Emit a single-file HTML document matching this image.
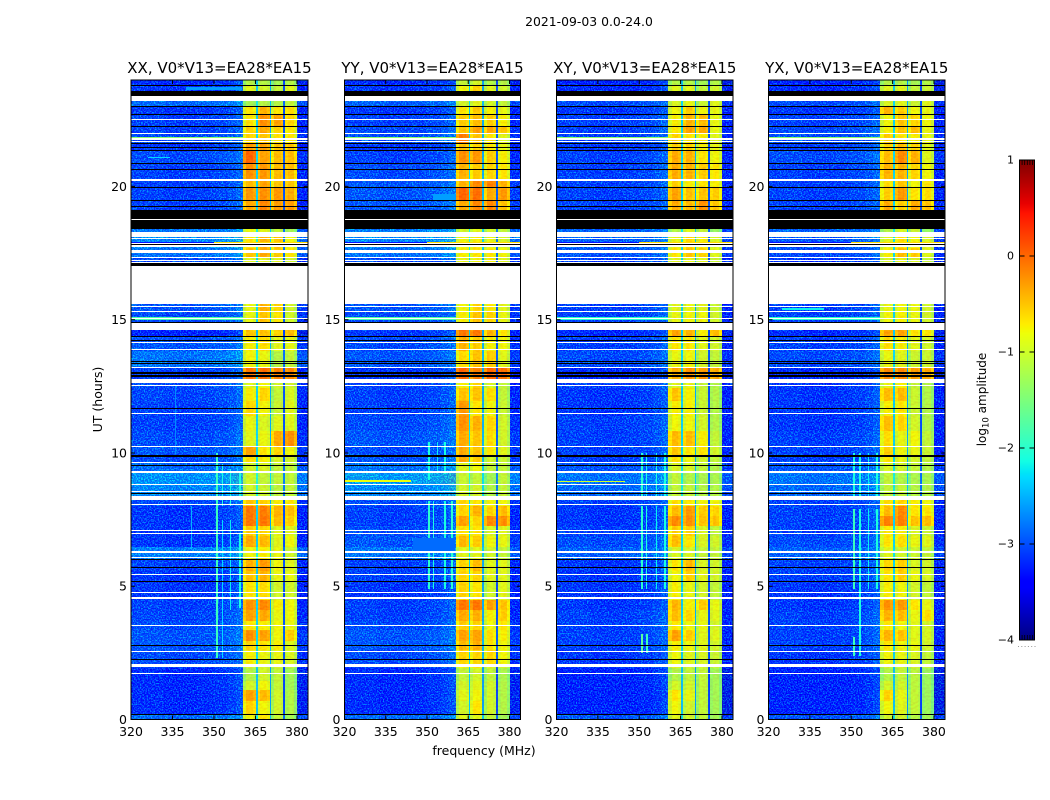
<!DOCTYPE html>
<html lang="en">
<head>
<meta charset="utf-8">
<title>2021-09-03 0.0-24.0</title>
<style>
html,body{margin:0;padding:0;background:#fff;}
svg{display:block;font-family:"DejaVu Sans","Liberation Sans",sans-serif;fill:#000;}
</style>
</head>
<body>
<svg id="chart" xmlns="http://www.w3.org/2000/svg" width="1050" height="800" viewBox="0 0 1050 800">
  <defs>
    <filter id="speckle" x="0" y="0" width="100%" height="100%" color-interpolation-filters="sRGB">
      <feTurbulence type="fractalNoise" baseFrequency="0.72" numOctaves="2" seed="7"/>
      <feColorMatrix type="matrix" values="0 0 0 0 0  4.2 0 0 0 -1.9  2.4 0 0 0 0.2  0 0 0 0 0.5"/>
    </filter>
    <filter id="band-texture" x="0" y="0" width="100%" height="100%" color-interpolation-filters="sRGB">
      <feTurbulence type="fractalNoise" baseFrequency="0.3 0.5" numOctaves="2" seed="11"/>
      <feColorMatrix type="matrix" values="0 0 0 0 1  3 0 0 0 -0.9  0 0 0 0 0  0 0 0 0 0.1"/>
    </filter>
  </defs>
  <text x="589" y="26" font-size="12.4" text-anchor="middle">2021-09-03 0.0-24.0</text>
  <text x="484" y="755" font-size="12.5" text-anchor="middle">frequency (MHz)</text>
  <text transform="translate(102 399.5) rotate(-90)" font-size="12.5" text-anchor="middle">UT (hours)</text>
  <text transform="translate(986 399.5) rotate(-90)" font-size="12" text-anchor="middle">log<tspan font-size="8.5" dy="2.5">10</tspan><tspan dy="-2.5"> amplitude</tspan></text>
  <g id="panels"></g>
  <g id="colorbar"></g>
</svg>
<script>
/* ---------- axis ticks ---------- */
const freqTicks = [320, 335, 350, 365, 380];
const utTicks = [0, 5, 10, 15, 20];
const cbarTicks = [1, 0, -1, -2, -3, -4];

/* ---------- panels ---------- */
const polNames = ['XX', 'YY', 'XY', 'YX'];
const baselineLabel = ', V0*V13=EA28*EA15';

/* ---------- frequency channels (MHz edges) ---------- */
const freqEdges = [320,332,344,350,355,358,360.4,361.7,364.2,365.2,365.8,366.8,369.1,370.1,370.7,371.7,374.1,375.1,375.8,376.8,379.1,380.1,384];
/* -1 background, 0..3 sub-band, 4..6 stripe between sub-bands */
const channelBand = [-1,-1,-1,-1,-1,-1,0,0,0,4,1,1,1,5,2,2,2,6,3,3,3,-1];
const channelGain = [0.02,-0.05,0,0.08,0.2,0.38,-0.25,0,-0.1,0,-0.2,0,-0.1,0,-0.3,0,-0.1,0,-0.1,0,-0.25,-0.25];
const stripeLevels = [-2.3,-2.5,-2.95];

/* ---------- time blocks (UT hours, block edges) ---------- */
const utEdges = [0,.19,.71,1.09,1.46,1.95,2.1,2.59,2.96,3.34,3.71,4.09,4.5,5.21,5.59,6.04,6.49,6.9,7.27,7.65,8.02,8.25,8.85,9.26,9.64,9.9,10.27,10.84,11.4,11.96,12.45,12.79,13.2,13.84,14.36,14.62,15.3,15.6,17.02,17.36,17.7,18.11,18.41,19.12,19.46,19.98,20.28,20.85,21.33,21.6,21.97,22.23,22.72,23.02,23.21,23.55,23.77,24];

/* ---------- off-band background level, log10 amplitude, per block ---------- */
const bgXX = [-2.7,-3.3,-3.3,-3.3,-3.3,-3.1,-3.0,-2.9,-2.9,-3.0,-3.05,-3.1,-3.2,-3.2,-3.1,-2.5,-3.2,-3.2,-3.2,-3.2,-3.0,-2.4,-2.3,-2.7,-3.0,-2.9,-3.0,-3.1,-3.1,-3.05,-3.0,-3.1,-2.6,-2.9,-3.4,-3.0,-2.9,-3,-3.0,-2.6,-2.4,-2.6,-3,-3.1,-3.1,-3.1,-3.1,-3.0,-3.2,-3.0,-3.1,-3.1,-3.2,-2.7,-3,-3.2,-3.3];
const bgYY = [-2.7,-3.3,-3.3,-3.3,-3.3,-3.1,-3.0,-2.9,-2.9,-3.0,-3.1,-3.1,-3.2,-3.1,-3.1,-2.6,-2.9,-3.0,-3.1,-3.1,-3.0,-2.4,-2.2,-2.6,-2.9,-3.0,-2.9,-3.0,-3.1,-3.1,-3.1,-3.2,-2.9,-3.0,-3.2,-3.0,-2.9,-3,-3.0,-2.6,-2.4,-2.5,-3,-2.9,-2.9,-2.9,-3.0,-3.1,-3.2,-3.0,-3.0,-3.1,-3.2,-2.8,-3,-3.2,-3.3];
const bgXY = [-2.9,-3.4,-3.4,-3.4,-3.4,-3.2,-3.2,-3.1,-3.1,-3.1,-3.1,-3.2,-3.2,-3.2,-3.2,-2.8,-3.0,-3.1,-3.2,-3.2,-3.1,-2.7,-2.6,-2.9,-3.1,-3.1,-3.1,-3.1,-3.2,-3.2,-3.1,-3.3,-3.0,-3.1,-3.3,-3.1,-3.1,-3,-3.1,-2.9,-2.8,-2.8,-3,-3.1,-3.1,-3.1,-3.1,-3.1,-3.2,-3.1,-3.1,-3.1,-3.2,-3.0,-3,-3.3,-3.4];
const bgYX = [-2.9,-3.4,-3.4,-3.4,-3.4,-3.3,-3.2,-3.1,-3.1,-3.1,-3.1,-3.2,-3.2,-3.1,-3.1,-2.8,-3.0,-3.1,-3.1,-3.1,-3.1,-2.7,-2.6,-2.9,-3.1,-3.1,-3.1,-3.2,-3.2,-3.2,-3.2,-3.3,-3.0,-3.1,-3.3,-3.1,-3.1,-3,-3.2,-3.0,-2.9,-2.8,-3,-3.1,-3.1,-3.1,-3.1,-3.0,-3.1,-3.0,-3.0,-3.1,-3.2,-3.0,-3,-3.3,-3.4];

/* ---------- four sub-band levels per block ---------- */
const bandXX = [[-.8,-.7,-1.1,-1.3],[-.6,-.8,-1.0,-1.2],[-.3,-.45,-1.0,-1.2],[-1.0,-.8,-1.1,-1.3],[-1.2,-1.0,-1.1,-1.3],[-1,-1,-1,-1.1],[-.75,-.85,-.85,-.95],[-.6,-.7,-.75,-.9],[-.2,-.3,-.8,-.55],[-.7,-.75,-.8,-.85],[-.3,-.35,-.85,-.8],[-.2,-.15,-.75,-.8],[-.7,-.65,-1.0,-1.0],[-.5,-.4,-.85,-.85],[-.4,-.25,-.8,-.9],[-.8,-.75,-.85,-1.0],[-.35,-.45,-.9,-.8],[-.55,-.6,-.9,-.9],[-.05,-.05,-.45,-.55],[-.05,-.1,-.4,-.45],[-.5,-.55,-.75,-.7],[-1,-1.05,-1.15,-1.1],[-1.0,-1.1,-1.1,-1.1],[-1,-.95,-1.1,-1.1],[-.65,-.75,-.95,-1],[-.3,-.7,-.6,-.8],[-.9,-.85,-.35,-.2],[-.85,-.95,-.9,-.9],[-.6,-.8,-1.05,-.9],[-.75,-.6,-1.1,-.95],[-.9,-.8,-1,-1],[-.05,0,-.1,-.15],[-.8,-.85,-1.2,-1.1],[-.75,-.65,-.9,-.85],[-.5,-.5,-.6,-.45],[-.85,-.5,-.7,-1],[-.85,-.4,-.6,-1.0],[-1,-1,-1,-1],[-.9,-.9,-.9,-1.0],[-.5,-.35,-.55,-.7],[-.7,-.4,-.5,-.8],[-.85,-.9,-1.1,-1.3],[-1,-1,-1,-1],[-.35,-.15,-.25,-.25],[-.25,-.2,-.25,-.35],[-.45,-.3,-.5,-.5],[-.2,-.25,-.45,-.45],[.05,-.3,-.45,-.45],[-.3,-.3,-.5,-.5],[-.6,-.5,-.7,-.7],[-.6,-.35,-.6,-.7],[-.7,-.2,-.3,-.6],[-.7,-.4,-.7,-.65],[-1.3,-1.2,-1.2,-1.1],[-1,-1,-1,-1],[-.9,-1,-1.1,-.9],[-1.2,-1.2,-1.3,-1.2]];
const bandYY = [[-.9,-.9,-1.1,-1.3],[-1,-.7,-1,-1.2],[-.9,-.8,-1,-1.2],[-1,-.9,-1,-1.2],[-1.1,-1.0,-1.1,-1.25],[-.8,-.7,-.9,-1.0],[-.6,-.6,-.6,-.8],[-.45,-.4,-.7,-.8],[-.3,-.3,-.65,-.75],[-.55,-.6,-.8,-.7],[-.35,-.4,-.75,-.55],[-.05,-.05,-.3,-.5],[-.6,-.7,-1.0,-.9],[-.6,-.6,-.9,-.9],[-.6,-.45,-.9,-.9],[-.9,-.9,-1,-1.1],[-.45,-.55,-.8,-.85],[-.65,-.7,-.95,-.9],[-.3,-.6,-.15,-.2],[-.6,-.4,-.6,-.45],[-.6,-.7,-.8,-.8],[-1,-1.0,-1.2,-1.1],[-1.05,-1.1,-1.3,-1.1],[-.9,-.8,-1.1,-1.1],[-.35,-.55,-1,-1.05],[-.35,-.5,-.7,-.9],[-.35,-.5,-.65,-1.0],[-.2,-.4,-.6,-1.0],[-.25,-.7,-.8,-1.05],[-.5,-.5,-.65,-1.1],[-.75,-.6,-.95,-1.1],[.05,-.1,.05,0],[-.65,-.5,-.55,-.9],[-.4,-.55,-.75,-.8],[-.05,-.05,-.4,-.7],[-.75,-.5,-.6,-.85],[-.8,-.6,-.7,-.9],[-1,-1,-1,-1],[-.85,-.8,-.75,-.9],[-.75,-.7,-.7,-.8],[-.8,-.75,-.85,-.95],[-1,-.9,-1,-1.1],[-1,-1,-1,-1],[-.35,-.15,-.15,-.5],[.05,0,-.35,-.25],[-.4,-.15,-.1,-.4],[-.4,-.55,-.6,-.7],[-.2,-.25,-.55,-.75],[-.5,-.6,-.7,-.85],[-.1,-.5,-.7,-.9],[-.5,-.3,-.35,-.5],[-.55,-.45,-.55,-.75],[-.7,-.55,-.75,-.85],[-1,-.9,-1,-1.1],[-1,-1,-1,-1],[-.8,-.6,-.9,-1.0],[-1.1,-1.0,-1.2,-1.2]];
const bandXY = [[-.9,-1,-1.1,-1.3],[-.8,-1,-1.1,-1.3],[-.7,-.85,-1.1,-1.3],[-1,-1,-1.1,-1.3],[-1.2,-1.1,-1.1,-1.3],[-.9,-1.0,-1,-1.1],[-.8,-.9,-.95,-1.05],[-.75,-.8,-.9,-1],[-.3,-.55,-.9,-.9],[-.7,-.8,-.85,-1.0],[-.45,-.6,-.85,-.9],[-.4,-.75,-.55,-.85],[-.75,-.85,-1,-1.1],[-.8,-.55,-.9,-1],[-.7,-.45,-.95,-1],[-.95,-.95,-1.1,-1.1],[-.45,-.7,-.95,-1.0],[-.55,-.55,-.95,-1.1],[-.15,-.2,-.5,-.5],[-.45,-.25,-.55,-.6],[-.65,-.7,-.8,-.8],[-1.1,-1.1,-1.2,-1.2],[-1.1,-1.2,-1.25,-1.25],[-.95,-.95,-1.1,-1.2],[-.65,-.8,-1,-1.1],[-.5,-.7,-.7,-1.0],[-.45,-.45,-.75,-1.1],[-.8,-.8,-1.0,-1.2],[-.75,-.75,-1.05,-1.2],[-.5,-.75,-1.05,-1.2],[-.9,-.85,-1.1,-1.2],[-.35,-.2,-.25,-.35],[-.85,-.8,-1.0,-1.1],[-.7,-.7,-.9,-1.0],[-.3,-.4,-.75,-.45],[-.85,-.8,-.8,-1],[-.9,-.85,-.9,-1.05],[-1,-1,-1,-1],[-.9,-.85,-.9,-1.05],[-.7,-.5,-.6,-.9],[-.85,-.6,-.75,-.95],[-1.2,-.9,-1.1,-1.4],[-1,-1,-1,-1],[-.35,-.45,-.2,-.5],[-.3,-.5,-.5,-.55],[-.55,-.75,-.7,-.75],[-.35,-.4,-.55,-.7],[-.35,-.4,-.7,-.8],[-.55,-.6,-.75,-.85],[-.6,-.7,-.75,-.9],[-.7,-.3,-.35,-.85],[-.75,-.4,-.45,-.85],[-.8,-.55,-.8,-.85],[-.95,-.85,-1.05,-.9],[-1,-1,-1,-1],[-.9,-.9,-1.1,-1.0],[-1.2,-1.2,-1.3,-1.2]];
const bandYX = [[-1,-1,-1.2,-1.3],[-.8,-.9,-1.1,-1.35],[-.6,-.85,-1.1,-1.35],[-1,-1.0,-1.15,-1.35],[-1.2,-1.1,-1.15,-1.35],[-1,-1,-1,-1.1],[-.8,-.85,-.95,-1.1],[-.7,-.8,-.85,-1],[-.4,-.5,-.9,-.95],[-.7,-.8,-.9,-1.0],[-.4,-.45,-.85,-.65],[-.2,-.25,-.7,-.85],[-.75,-.8,-1,-1.1],[-.7,-.55,-.85,-.95],[-.6,-.55,-.95,-1],[-.9,-1,-1.05,-1.1],[-.7,-.65,-.85,-.9],[-.7,-.75,-.95,-1.05],[-.1,-.1,-.5,-.45],[-.45,-.15,-.7,-.7],[-.65,-.6,-.75,-.8],[-1.1,-1.1,-1.2,-1.2],[-1.1,-1.2,-1.25,-1.25],[-.95,-1,-1.1,-1.2],[-.7,-.85,-1,-1.1],[-.55,-.8,-.85,-1.05],[-.65,-.85,-.8,-1.1],[-.45,-.6,-1.0,-1.2],[-.75,-.7,-1.05,-1.2],[-.45,-.45,-1.05,-1.2],[-.85,-.75,-1.1,-1.2],[-.15,-.15,-.25,-.35],[-.85,-.9,-1.05,-1.05],[-.65,-.75,-.9,-1],[-.3,-.3,-.7,-.7],[-.8,-.75,-.85,-1],[-.85,-.8,-.85,-1],[-1,-1,-1,-1],[-.95,-.85,-.95,-1.1],[-.75,-.45,-.55,-.9],[-.9,-.65,-.8,-.95],[-1.2,-.95,-1.05,-1.4],[-1,-1,-1,-1],[-.35,-.55,-.35,-.5],[-.55,-.25,-.7,-.65],[-.65,-.5,-.8,-.7],[-.4,-.4,-.6,-.8],[-.45,-.15,-.4,-.9],[-.6,-.45,-.6,-.9],[-.55,-.7,-.75,-.85],[-.75,-.5,-.45,-.85],[-.8,-.5,-.6,-.8],[-.4,-.55,-.8,-.85],[-.95,-.9,-1.05,-.9],[-1,-1,-1,-1],[-.9,-.9,-1.1,-1.05],[-1.2,-1.2,-1.3,-1.2]];

/* ---------- narrow interference: [f0, f1, ut0, ut1, level] ---------- */
const rfiXX = [[350.7,351.5,2.3,7.5,-1.9],[352.8,353.3,2.3,7.5,-2.3],[355.8,356.3,4.1,7.5,-2.2],[359,359.8,4.2,7,-2.1],[350.7,351.5,7.2,10,-1.9],[352.8,353.3,8,9.6,-2.1],[355.8,356.3,8,9.4,-2.1],[359,359.8,8.2,9.3,-2.1],[335.9,336.4,10,12.5,-2.7],[341.7,342.2,6.4,8,-2.5],[340,360,23.6,23.72,-2.6],[320,360.4,21.8,21.84,-1.4],[320,350,17.86,17.92,-3.3],[350,384,17.86,17.9,-.6],[320,360.4,15.0,15.1,-1.8],[326,334,21.05,21.1,-2.3]];
const rfiYY = [[350.4,351.2,4.9,8.2,-2],[352,352.6,4.9,8.2,-2.1],[356.2,356.8,4.9,8.2,-2.1],[358.6,359.4,4.9,8.2,-2],[350.4,351.2,9,10.4,-2.1],[353.5,354,9.2,10.4,-2.2],[356.2,356.8,9.2,10.4,-2.1],[320,344,8.9,8.97,-.8],[345,360,6.3,6.8,-2.85],[320,360.4,21.8,21.84,-1.4],[320,350,17.86,17.92,-3.3],[350,384,17.86,17.9,-.6],[320,360.4,15.0,15.1,-1.8],[352,360.4,19.5,19.7,-2.6]];
const rfiXY = [[350.5,351.5,2.5,3.2,-1.7],[352.3,353,2.5,3.2,-1.9],[350.5,351.3,4.9,8,-2],[352.3,352.9,4.9,8,-2.1],[356,356.6,4.9,8,-2.2],[359,359.6,4.9,8,-2.1],[350.5,351.3,8.4,10,-2],[352.3,352.9,8.4,10,-2.1],[356,356.6,8.4,10,-2.1],[359,359.6,8.4,10,-2.1],[320,345,8.9,8.95,-1],[320,360.4,21.8,21.84,-1.4],[320,350,17.86,17.92,-3.3],[350,384,17.86,17.9,-.6],[320,360.4,15.0,15.1,-2]];
const rfiYX = [[350.5,351.3,2.4,3.1,-1.9],[350.5,351.3,4.9,7.9,-1.9],[352.8,353.4,2.4,7.9,-2.1],[356,356.6,4.9,7.9,-2.2],[359,359.6,4.9,7.9,-2.1],[350.5,351.3,8.4,10,-2.1],[352.8,353.4,8.4,10,-2.1],[356,356.6,8.4,10,-2.2],[359,359.6,8.4,10,-2.1],[320,360.4,21.8,21.84,-1.4],[320,350,17.86,17.92,-3.3],[350,384,17.86,17.9,-.6],[320,360.4,15.0,15.1,-2],[325,340,15.36,15.42,-2.2]];

/* ---------- missing data (white) in UT hours ---------- */
const gapSpans = [[23.21,23.4],[22.5,22.54],[21.97,22.0],[21.76,21.8],[21.65,21.69],[20.21,20.28],[18.73,18.77],[18.11,18.3],[18.03,18.07],[17.71,17.86],[17.52,17.61],[17.31,17.36],[17.2,17.24],[17.12,17.15],[15.58,17.0],[15.47,15.5],[15.3,15.34],[15.03,15.07],[14.6,14.86],[14.13,14.17],[13.87,13.9],[13.2,13.23],[12.63,12.79],[12.5,12.54],[11.46,11.49],[10.23,10.26],[9.62,9.65],[9.25,9.34],[8.82,8.85],[8.54,8.57],[8.25,8.37],[8.07,8.1],[7.08,7.11],[6.96,6.99],[6.26,6.34],[6.06,6.11],[5.42,5.45],[4.75,4.78],[4.51,4.61],[3.5,3.53],[2.53,2.56],[1.96,2.1],[1.7,1.73]];

/* ---------- flagged data (black) in UT hours ---------- */
const flagSpans = [[23.76,23.79],[23.55,23.59],[23.4,23.55],[23.0,23.03],[22.7,22.73],[22.22,22.25],[21.6,21.63],[21.45,21.48],[21.32,21.35],[20.84,20.87],[20.61,20.64],[19.95,19.98],[19.45,19.48],[19.22,19.25],[18.77,19.12],[18.41,18.73],[17.8,17.83],[17.0,17.12],[14.86,14.9],[14.35,14.38],[14.2,14.23],[13.41,13.44],[13.35,13.38],[12.97,13.02],[12.86,12.92],[11.66,11.69],[9.9,9.93],[9.86,9.89],[9.5,9.53],[8.46,8.49],[5.98,6.02],[5.69,5.72],[5.17,5.2],[2.75,2.78],[2.24,2.27],[.16,.19]];

/* ---------- scales ---------- */
const SVG_NS = 'http://www.w3.org/2000/svg';
const panelsRoot = document.getElementById('panels');
const colorbarRoot = document.getElementById('colorbar');
const panelBoxes = [{l:131,r:308},{l:344.5,r:520.5},{l:556.5,r:733},{l:768.5,r:945}];
const subBandRanges = [[6,9],[10,13],[14,17],[18,21]];
const plotTop = 80, plotBottom = 719.5;
const cbarBox = {l:1019.5,r:1034.5,t:160,b:640};
const cbarMin = -4, cbarMax = 1;

function xScale(box, f){ return box.l + (f - 320) * (box.r - box.l) / 64; }
function yScale(u){ return plotBottom - u * (plotBottom - plotTop + 0.2) / 24; }
function cbarScale(v){ return cbarBox.b - (v - cbarMin) * (cbarBox.b - cbarBox.t) / (cbarMax - cbarMin); }

function jetChannel(t, pts){
  for (let i = 1; i < pts.length; i++){
    if (t <= pts[i][0]) {
      const a = pts[i-1], b = pts[i];
      return a[1] + (b[1] - a[1]) * (t - a[0]) / (b[0] - a[0]);
    }
  }
  return pts[pts.length-1][1];
}
const jetR = [[0,0],[.35,0],[.66,1],[.89,1],[1,.5]];
const jetG = [[0,0],[.125,0],[.375,1],[.64,1],[.91,0],[1,0]];
const jetB = [[0,.5],[.11,1],[.34,1],[.65,0],[1,0]];
function jet(v){
  const t = Math.max(0, Math.min(1, (v - cbarMin) / (cbarMax - cbarMin)));
  const c = p => Math.round(255 * jetChannel(t, p));
  return 'rgb(' + c(jetR) + ',' + c(jetG) + ',' + c(jetB) + ')';
}
function svgEl(tag, attrs, parent){
  const e = document.createElementNS(SVG_NS, tag);
  for (const k in attrs) e.setAttribute(k, attrs[k]);
  parent.appendChild(e);
  return e;
}
function spanBox(box, s, f0, f1){
  const top = Math.round(yScale(s[1]));
  const h = Math.max(1, Math.round(yScale(s[0])) - top);
  const x0 = Math.round(xScale(box, f0));
  return {x:x0, y:top, width:Math.max(1, Math.round(xScale(box, f1)) - x0), height:h};
}

/* ---------- draw panels ---------- */
const bgByPol = [bgXX, bgYY, bgXY, bgYX];
const bandByPol = [bandXX, bandYY, bandXY, bandYX];
const rfiByPol = [rfiXX, rfiYY, rfiXY, rfiYX];

polNames.forEach(function(pol, p){
  const box = panelBoxes[p];
  const g = svgEl('g', {}, panelsRoot);
  
  

  const cells = svgEl('g', {'shape-rendering':'crispEdges'}, g);
  
  

  for (let r = 0; r < utEdges.length - 1; r++){
    const y1 = Math.round(yScale(utEdges[r+1]));
    const y0 = Math.round(yScale(utEdges[r]));
    for (let c = 0; c < freqEdges.length - 1; c++){
      const x0 = Math.round(xScale(box, freqEdges[c]));
      const x1 = Math.round(xScale(box, freqEdges[c+1]));
      const kind = channelBand[c];
      let level;
      if (kind < 0) level = bgByPol[p][r] + channelGain[c];
      else if (kind < 4) level = bandByPol[p][r][kind] + channelGain[c];
      else level = stripeLevels[kind-4] + (bgByPol[p][r] + 3) * 0.3;
      const cell = svgEl('rect', {x:x0, y:y1, width:x1-x0, height:Math.max(0,y0-y1), fill:jet(level)}, cells);
      
      
    }
  }

  /* pixel-scale speckle texture on the off-band regions */
  const specA = svgEl('rect', {x:xScale(box,320), y:plotTop, width:xScale(box,360.4)-xScale(box,320), height:plotBottom-plotTop, filter:'url(#speckle)'}, g);
  
  
  const specB = svgEl('rect', {x:xScale(box,380.2), y:plotTop, width:xScale(box,384)-xScale(box,380.2), height:plotBottom-plotTop, filter:'url(#speckle)'}, g);
  
  

  /* soft mottling inside the four sub-bands */
  subBandRanges.forEach(function(rg){
    const tx = svgEl('rect', {x:xScale(box,freqEdges[rg[0]]), y:plotTop, width:xScale(box,freqEdges[rg[1]])-xScale(box,freqEdges[rg[0]]), height:plotBottom-plotTop, filter:'url(#band-texture)'}, g);
    
    
  });

  const overlay = svgEl('g', {'shape-rendering':'crispEdges'}, g);
  
  

  rfiByPol[p].forEach(function(s){
    const b = spanBox(box, [s[2], s[3]], s[0], s[1]);
    const m = svgEl('rect', Object.assign(b, {fill:jet(s[4])}), overlay);
    
    
  });
  gapSpans.forEach(function(s){
    const b = spanBox(box, s, 320, 384);
    const m = svgEl('rect', Object.assign(b, {fill:'#fff'}), overlay);
    
    
  });
  flagSpans.forEach(function(s){
    const b = spanBox(box, s, 320, 384);
    const m = svgEl('rect', Object.assign(b, {fill:'#000'}), overlay);
    
    
  });

  /* frame */
  const frame = svgEl('rect', {x:box.l, y:plotTop, width:box.r-box.l, height:plotBottom-plotTop, fill:'none', stroke:'#000', 'stroke-width':1}, g);
  
  

  /* title */
  const title = svgEl('text', {x:(box.l+box.r)/2, y:73, 'font-size':15, 'text-anchor':'middle'}, g);
  title.textContent = pol + baselineLabel;
  
  

  /* frequency ticks */
  freqTicks.forEach(function(f){
    const x = xScale(box, f);
    const tk = svgEl('path', {d:'M'+x+' '+plotBottom+'v-4M'+x+' '+plotTop+'v4', stroke:'#000', 'stroke-width':1, fill:'none'}, g);
    
    
    const lb = svgEl('text', {x:x, y:736, 'font-size':12.5, 'text-anchor':'middle'}, g);
    lb.textContent = String(f);
    
    
  });

  /* UT ticks */
  utTicks.forEach(function(u){
    const y = yScale(u);
    const tk = svgEl('path', {d:'M'+box.l+' '+y+'h4M'+box.r+' '+y+'h-4', stroke:'#000', 'stroke-width':1, fill:'none'}, g);
    
    
    const lb = svgEl('text', {x:box.l-4, y:y+4.5, 'font-size':12.5, 'text-anchor':'end'}, g);
    lb.textContent = String(u);
    
    
  });
});

/* ---------- colorbar ---------- */
const cbarSteps = 240;
for (let i = 0; i < cbarSteps; i++){
  const v = cbarMin + (cbarMax - cbarMin) * (i + 0.5) / cbarSteps;
  const h = (cbarBox.b - cbarBox.t) / cbarSteps;
  const seg = svgEl('rect', {x:cbarBox.l, y:cbarScale(v) - h/2, width:cbarBox.r-cbarBox.l, height:h+0.3, fill:jet(v), 'shape-rendering':'crispEdges'}, colorbarRoot);
  
  
}
const cbarFrame = svgEl('rect', {x:cbarBox.l, y:cbarBox.t, width:cbarBox.r-cbarBox.l, height:cbarBox.b-cbarBox.t, fill:'none', stroke:'#000', 'stroke-width':1}, colorbarRoot);



cbarTicks.forEach(function(v){
  const y = cbarScale(v);
  const lb = svgEl('text', {x:1014, y:y+3.5, 'font-size':11, 'text-anchor':'end'}, colorbarRoot);
  lb.textContent = v < 0 ? '\u2212' + Math.abs(v) : String(v);
  
  
  if (v !== cbarMin && v !== cbarMax){
    const tk = svgEl('path', {d:'M'+cbarBox.l+' '+y+'h5M'+cbarBox.r+' '+y+'h-5', stroke:'#000', 'stroke-width':1, fill:'none'}, colorbarRoot);
    
    
  }
});
for (let i = 1; i < 6; i++){
  const x = cbarBox.l + i * 2.6;
  const top = svgEl('path', {d:'M'+x+' '+cbarBox.t+'v5M'+x+' '+cbarBox.b+'v-5', stroke:'#000', 'stroke-width':0.8, fill:'none'}, colorbarRoot);
  
  
}
for (let i = 0; i < 6; i++){
  const dot = svgEl('rect', {x:1018 + i * 3.3, y:646, width:1, height:1, fill:'#999'}, colorbarRoot);
  
  
}
</script>
</body>
</html>
